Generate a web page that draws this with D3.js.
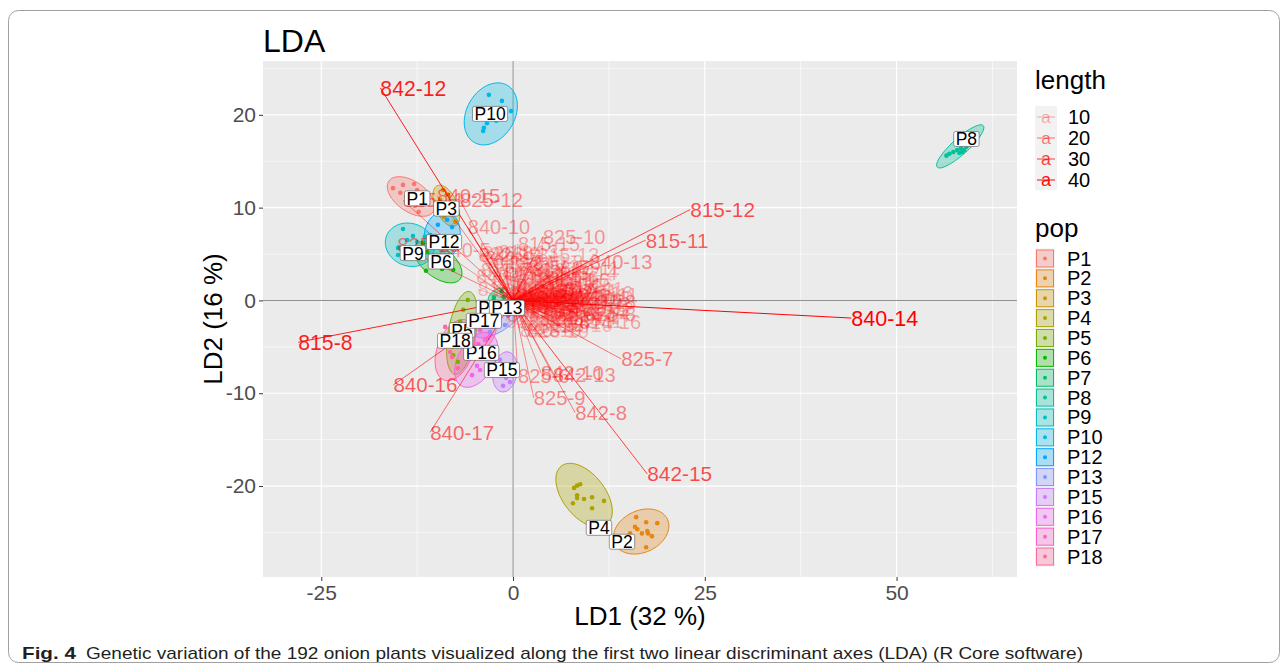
<!DOCTYPE html>
<html>
<head>
<meta charset="utf-8">
<script src="https://cdn.jsdelivr.net/npm/d3@7"></script>
<style>
  body { margin: 0; background: #fff; }
  svg { display: block; font-family: "Liberation Sans", Arial, sans-serif; }
</style>
</head>
<body>
<svg id="chart" width="1287" height="668"></svg>
<script>
// populations (ggplot hue palette, 16 levels)
const popNames = ["P1", "P2", "P3", "P4", "P5", "P6", "P7", "P8", "P9", "P10", "P12", "P13", "P15", "P16", "P17", "P18"];
const popColors = ["#F8766D", "#E68613", "#CD9600", "#ABA300", "#7CAE00", "#0CB702", "#00BE67", "#00C19A",
                   "#00BFC4", "#00B8E7", "#00A9FF", "#8494FF", "#C77CFF", "#ED68ED", "#FF61CC", "#FF68A1"];

// 95% ellipses: centre, half major axis (data units), minor/major ratio
const ellCx = [-13.3, 16.7, -8.7, 9.26, -6.65, -9.78, -1.95, 58.3, -13.45, -2.9, -9.25, -1.7, -1.05, -4.8, -3.8, -7.55];
const ellCy = [11.2, -24.9, 10.2, -21.0, -3.5, 4.15, 0.5, 16.6, 6.0, 20.1, 6.95, -1.9, -7.7, -6.4, -3.7, -5.35];
const ellUx = [2.88, 3.43, 1.16, 2.97, 0.95, 2.87, 1.2, 3.0, 3.06, 2.15, 0.52, 3.2, 0.4, 1.95, 1.17, 1.43];
const ellUy = [-1.67, 1.32, -2.17, -3.15, 4.46, -1.86, 0.6, 2.23, -0.92, 3.08, 2.65, 1.85, 2.15, 2.8, 1.68, 3.23];
const ellRatio = [0.56, 0.72, 0.5, 0.57, 0.33, 0.54, 0.6, 0.26, 0.85, 0.73, 0.72, 0.4, 0.6, 0.6, 0.55, 0.56];

// population label positions
const labelX = [-12.5, 14.2, -8.7, 11.2, -6.65, -9.4, -3.15, 59.1, -13.05, -3.0, -9.0, -0.8, -1.45, -4.15, -3.8, -7.55];
const labelY = [11.0, -26.0, 9.9, -24.5, -3.2, 4.2, -0.8, 17.4, 5.1, 20.1, 6.3, -0.8, -7.5, -5.65, -2.2, -4.35];

// individual plants (LD1, LD2) per population
const popPoints = [
  [[-15.65, 12.1], [-14.35, 12.45], [-12.9, 12.55], [-12.5, 11.9], [-13.8, 11.15], [-12.8, 10.2], [-12.3, 9.55], [-14.7, 11.6], [-13.2, 10.85], [-11.5, 10.7]],
  [[16.05, -23.35], [17.35, -23.9], [18.8, -24.0], [15.9, -24.4], [16.2, -24.65], [16.8, -25.1], [17.5, -24.85], [17.6, -25.1], [18.1, -25.4], [15.25, -25.1], [17.35, -26.6]],
  [[-8.6, 9.95], [-7.95, 9.4], [-9.0, 9.0], [-9.5, 10.85], [-7.55, 8.45], [-8.5, 11.4], [-9.1, 11.9]],
  [[7.95, -20.2], [8.35, -19.95], [8.75, -19.8], [8.35, -21.0], [8.35, -21.3], [7.8, -21.85], [9.25, -21.4], [10.3, -21.2], [11.85, -21.6], [10.3, -22.4]],
  [[-6.5, -1.0], [-7.95, -5.0], [-7.8, -5.9], [-6.9, -2.3], [-6.1, -4.0], [-7.2, -6.6], [-5.9, 0.05]],
  [[-11.35, 3.2], [-9.25, 3.4], [-7.8, 3.3], [-11.75, 6.2], [-11.2, 5.2], [-10.55, 4.15], [-8.75, 4.35]],
  [[-2.5, 0.3], [-1.5, 1.0], [-2.0, -0.2], [-1.2, 0.4]],
  [[56.9, 15.8], [56.5, 15.6], [57.9, 16.2], [58.2, 15.9], [58.55, 16.0], [58.8, 16.2], [57.4, 16.0], [58.4, 16.4], [59.1, 16.55]],
  [[-14.35, 7.7], [-13.05, 6.95], [-13.8, 6.5], [-15.0, 5.65], [-15.0, 4.9], [-12.5, 6.3], [-11.5, 6.85]],
  [[-3.15, 22.15], [-1.45, 21.5], [-0.25, 20.4], [-2.2, 19.35], [-3.4, 19.1], [-3.8, 18.6], [-3.9, 18.25]],
  [[-9.8, 8.15], [-8.6, 8.7], [-7.95, 7.9], [-10.8, 7.05], [-9.5, 6.0], [-7.55, 6.5]],
  [[-0.65, -1.65], [-3.0, -3.4], [-1.95, -2.3], [-0.15, -1.0], [-1.05, -2.65]],
  [[-0.65, -7.4], [-0.9, -8.35], [-0.4, -8.8], [-1.7, -6.4], [-1.3, -9.2]],
  [[-4.7, -7.05], [-4.3, -7.5], [-5.6, -4.8], [-3.65, -4.25], [-3.0, -3.7], [-5.35, -8.05]],
  [[-4.3, -3.2], [-3.25, -4.05], [-4.55, -4.7], [-2.75, -2.85]],
  [[-8.6, -3.95], [-8.2, -5.55], [-7.95, -6.1], [-7.2, -7.3], [-8.85, -2.85]]
];

// allele loadings: name, end point, length
const loadNames = ["842-12", "815-12", "815-11", "840-13", "825-10", "840-10", "840-15", "825-12", "840-14", "815-8",
  "840-16", "840-17", "825-7", "842-15", "842-8", "825-9", "825-11", "825-13", "840-5", "825-6", "842-10", "842-13",
  "840-18", "825-8", "814-16", "823-7", "815-15", "817-11",
  "811-7", "811-9", "811-12", "811-13", "811-14", "814-6", "814-8", "814-9", "814-10", "814-11", "814-12", "814-14",
  "815-6", "815-7", "815-9", "815-10", "815-13", "815-14", "817-6", "817-7", "817-9", "817-10", "817-12", "817-13",
  "825-5", "825-14", "825-15", "825-16", "826-4", "826-6", "826-7", "826-8", "826-9", "826-10", "826-12",
  "840-6", "840-7", "840-8", "840-9", "840-11", "840-12", "840-19", "842-5", "842-6", "842-7", "842-9", "842-11",
  "842-14", "842-16",
  "811-5", "811-6", "811-8", "811-10", "811-11", "811-15", "811-16", "814-5", "814-7", "814-13", "814-15",
  "815-5", "815-16", "815-17", "817-5", "817-8", "817-14", "817-15", "817-16", "823-5", "823-6", "823-8",
  "823-9", "823-10", "823-11", "823-12", "826-5", "826-11", "826-13", "826-14", "828-6", "828-7", "828-8",
  "828-9", "828-10", "828-11", "828-12", "833-6", "833-7", "833-8", "833-9", "833-10", "833-11", "833-12",
  "840-20", "842-17", "842-18",
  "819-5", "819-6", "819-7", "819-8", "819-9", "819-10", "819-11", "819-12", "821-6", "821-7", "821-8",
  "821-9", "821-10", "821-11", "821-12", "821-13", "836-7", "836-8", "836-9", "836-10", "836-11", "836-12",
  "836-13", "836-14", "838-6", "838-8"];
const loadX = [-17.3, 23.1, 17.3, 10.0, 3.9, -5.9, -9.9, -6.9, 44.1, -28.0,
  -15.6, -10.8, 14.1, 17.5, 8.1, 2.7, -14.35, -15.1, -9.6, 0.65, 3.65, 5.2,
  7.95, 9.4, 8.6, 1.8, 0.65, 6.1,
  -4.2, -3.6, -2.8, -1.9, 1.2, 2.5, -4.6, 3.8, 5.0, 6.6, 4.4, 7.2,
  -1.1, 0.4, 2.1, -3.3, 3.2, 5.6, 6.0, 4.1, 2.8, 6.9, 1.3, 3.5,
  -2.4, -0.8, 2.0, 7.6, -2.6, 4.6, 4.2, -4.0, -3.0, 1.9, 5.2,
  -4.8, -1.5, 2.6, -3.2, 8.4, 3.3, 0.9, -0.5, 5.8, 3.0, -4.5, 6.5,
  1.0, -1.0,
  0.3, 1.8, 2.4, 3.1, 0.8, 4.0, 5.3, 1.4, -0.6, 2.2, 3.6,
  0.5, 4.8, 2.9, 1.1, 3.9, 5.5, 2.3, 6.3, -1.8, 0.1, 1.6,
  3.4, 4.3, 5.9, -0.9, 2.7, 3.7, 1.5, 6.8, -2.1, 0.7, 2.0,
  4.6, 5.0, -1.4, 7.7, 1.9, 3.3, 0.2, 4.2, 2.6, -0.2, 6.1,
  5.4, 2.5, 7.3,
  0.2, 0.9, -0.4, 1.5, 0.6, -1.2, 1.9, 0.0, 1.2, -0.7, 0.4,
  1.7, -0.2, 0.8, 2.1, -0.9, 0.5, 1.3, -0.5, 0.1, 1.0, 1.8,
  -1.5, 0.7, 0.3, 1.4];
const loadY = [22.9, 9.8, 6.5, 4.2, 6.9, 7.9, 11.3, 10.8, -1.9, -4.5,
  -9.1, -14.2, -6.3, -18.7, -12.1, -10.5, 10.8, 6.0, 5.5, -8.1, -7.8, -8.0,
  -0.15, -1.45, -2.3, -3.2, 6.1, 3.5,
  3.3, 4.6, 2.0, 5.2, 3.4, 2.6, 1.2, 1.8, 0.4, 1.3, -0.9, -1.6,
  3.0, 1.6, -1.2, -0.6, 4.9, 3.0, 2.2, 1.0, 0.3, -0.5, -2.5, -2.0,
  1.0, -1.6, 3.6, 0.8, 4.2, 2.4, 1.1, 5.1, 5.0, -3.3, -1.2,
  2.6, 2.4, 4.1, 3.6, 0.6, 3.0, -3.2, 4.0, 0.5, -0.4, 4.9, -2.2,
  0.6, -0.3,
  0.8, 1.2, -0.6, 0.9, -1.1, -1.4, 1.7, 2.3, 1.5, 0.2, 2.0,
  -0.6, -0.3, 1.5, 0.4, -0.9, -1.9, 2.8, 0.1, 0.8, 2.6, -1.6,
  -2.7, 0.6, 1.0, -2.2, 1.9, -0.2, -0.3, -1.1, 2.9, 3.9, -2.4,
  1.3, -2.6, -1.0, -0.9, 0.7, 0.0, -1.9, -1.9, 3.3, 1.1, -0.7,
  0.2, -1.0, 0.3,
  0.3, -0.2, 0.6, 0.1, -0.7, 0.2, 0.5, -0.4, 0.9, -0.1, 1.1,
  -0.5, 0.4, -1.0, 0.0, 0.5, 0.1, 0.7, -0.6, 0.9, -0.3, 0.3,
  0.1, -0.8, 0.4, -0.1];
const loadLen = [36, 28, 24, 15, 13, 13, 17, 16, 42, 36,
  24, 22, 19, 28, 18, 16, 17, 17, 12, 14, 15, 15,
  11, 11, 10, 8, 11, 9,
  8, 7, 6, 8, 6, 6, 6, 6, 7, 8, 6, 9,
  5, 4, 5, 5, 8, 8, 8, 7, 4, 7, 5, 6,
  4, 4, 6, 9, 6, 7, 6, 8, 7, 6, 7,
  7, 5, 7, 6, 10, 6, 8, 6, 7, 5, 8, 8,
  3, 3,
  3, 4, 4, 5, 3, 5, 6, 4, 3, 3, 5,
  2, 5, 4, 2, 5, 6, 5, 6, 3, 4, 4,
  6, 5, 6, 4, 4, 4, 2, 7, 5, 5, 5,
  5, 6, 3, 8, 3, 4, 3, 5, 5, 2, 6,
  5, 3, 7,
  2, 2, 2, 3, 2, 3, 3, 2, 3, 2, 3,
  3, 2, 3, 3, 3, 2, 3, 2, 2, 2, 3,
  3, 2, 2, 3];
const lenBreaks = [10, 20, 30, 40];

// axis ticks
const xTicks = [-25, 0, 25, 50];
const xMinor = [-12.5, 12.5, 37.5, 62.5];
const yTicks = [-20, -10, 0, 10, 20];
const yMinor = [-25, -15, -5, 5, 15, 25];

const svg = d3.select("#chart");
const panel = { left: 263, right: 1017, top: 61, bottom: 577 };

const x = d3.scaleLinear().domain([-32.6, 65.7]).range([panel.left, panel.right]);
const y = d3.scaleLinear().domain([-29.8, 25.8]).range([panel.bottom, panel.top]);
const alpha = d3.scaleLinear().domain(d3.extent(loadLen)).range([0.16, 1]);
const fsize = d3.scaleLinear().domain(d3.extent(loadLen)).range([19.5, 21.5]);

// outer frame of the figure
svg.append("rect")
  .attr("x", 8.5).attr("y", 10.5).attr("width", 1271).attr("height", 652).attr("rx", 10)
  .attr("fill", "none").attr("stroke", "#a0a0a0").attr("stroke-width", 1);

svg.append("defs").append("clipPath").attr("id", "clip")
  .append("rect").attr("x", panel.left).attr("y", panel.top)
  .attr("width", panel.right - panel.left).attr("height", panel.bottom - panel.top);

svg.append("rect")
  .attr("x", panel.left).attr("y", panel.top)
  .attr("width", panel.right - panel.left).attr("height", panel.bottom - panel.top)
  .attr("fill", "#EBEBEB");

// grid
const grid = svg.append("g").attr("stroke", "#fff");
grid.selectAll(".xmin").data(xMinor).join("line")
  .attr("x1", d => x(d)).attr("x2", d => x(d)).attr("y1", panel.top).attr("y2", panel.bottom).attr("stroke-width", 0.6);
grid.selectAll(".ymin").data(yMinor).join("line")
  .attr("y1", d => y(d)).attr("y2", d => y(d)).attr("x1", panel.left).attr("x2", panel.right).attr("stroke-width", 0.6);
grid.selectAll(".xmaj").data(xTicks).join("line")
  .attr("x1", d => x(d)).attr("x2", d => x(d)).attr("y1", panel.top).attr("y2", panel.bottom).attr("stroke-width", 1.2);
grid.selectAll(".ymaj").data(yTicks).join("line")
  .attr("y1", d => y(d)).attr("y2", d => y(d)).attr("x1", panel.left).attr("x2", panel.right).attr("stroke-width", 1.2);

// zero lines
svg.append("line").attr("x1", x(0)).attr("x2", x(0)).attr("y1", panel.top).attr("y2", panel.bottom)
  .attr("stroke", "#6e6e6e").attr("stroke-width", 0.8);
svg.append("line").attr("y1", y(0)).attr("y2", y(0)).attr("x1", panel.left).attr("x2", panel.right)
  .attr("stroke", "#6e6e6e").attr("stroke-width", 0.8);

const plot = svg.append("g").attr("clip-path", "url(#clip)");

// ellipses
function ellipsePath(i) {
  const cx = x(ellCx[i]), cy = y(ellCy[i]);
  const ux = x(ellCx[i] + ellUx[i]) - cx, uy = y(ellCy[i] + ellUy[i]) - cy;
  const vx = -uy * ellRatio[i], vy = ux * ellRatio[i];
  const pts = d3.range(0, 72).map(k => {
    const t = k / 72 * 2 * Math.PI;
    return [cx + Math.cos(t) * ux + Math.sin(t) * vx, cy + Math.cos(t) * uy + Math.sin(t) * vy];
  });
  return d3.line()(pts) + "Z";
}

plot.selectAll(".ell").data(d3.range(popNames.length)).join("path")
  .attr("d", i => ellipsePath(i))
  .attr("fill", i => popColors[i]).attr("fill-opacity", 0.3)
  .attr("stroke", i => popColors[i]).attr("stroke-width", 1);

// points
const pts = popPoints.flatMap((arr, i) => arr.map(p => ({ x: p[0], y: p[1], i: i })));
plot.selectAll(".pt").data(pts).join("circle")
  .attr("cx", d => x(d.x)).attr("cy", d => y(d.y)).attr("r", 2.3)
  .attr("fill", d => popColors[d.i]);

// loadings
const loads = loadNames.map((n, i) => ({ name: n, x: loadX[i], y: loadY[i], len: loadLen[i] }));
plot.selectAll(".seg").data(loads).join("line")
  .attr("x1", x(0)).attr("y1", y(0))
  .attr("x2", d => x(d.x)).attr("y2", d => y(d.y))
  .attr("stroke", "#FF0000").attr("stroke-opacity", d => alpha(d.len)).attr("stroke-width", 1);
plot.selectAll(".ltxt").data(loads).join("text")
  .attr("x", d => x(d.x)).attr("y", d => y(d.y) + fsize(d.len) * 0.36)
  .attr("font-size", d => fsize(d.len))
  .attr("fill", "#FF0000").attr("fill-opacity", d => alpha(d.len))
  .text(d => d.name);

// population labels
const lab = plot.selectAll(".plab").data(d3.range(popNames.length)).join("g")
  .attr("transform", i => `translate(${x(labelX[i])},${y(labelY[i])})`);
lab.append("text").attr("text-anchor", "middle").attr("y", 6.4).attr("font-size", 17.5).attr("fill", "#000")
  .text(i => popNames[i]);
lab.each(function () {
  const g = d3.select(this);
  const w = g.select("text").node().getComputedTextLength() + 4;
  g.insert("rect", "text").attr("x", -w / 2).attr("y", -7.5).attr("width", w).attr("height", 15)
    .attr("rx", 2).attr("fill", "#fff").attr("stroke", "#555").attr("stroke-width", 0.6);
});

// axes
const xAxis = svg.append("g").attr("transform", `translate(0,${panel.bottom})`)
  .call(d3.axisBottom(x).tickValues(xTicks).tickSize(4).tickPadding(4).tickFormat(d3.format("d")));
const yAxis = svg.append("g").attr("transform", `translate(${panel.left},0)`)
  .call(d3.axisLeft(y).tickValues(yTicks).tickSize(4).tickPadding(3).tickFormat(d3.format("d")));
[xAxis, yAxis].forEach(a => {
  a.select(".domain").remove();
  a.selectAll(".tick line").attr("stroke", "#333").attr("stroke-width", 1);
  a.selectAll(".tick text").attr("fill", "#4D4D4D").attr("font-size", 21)
    .attr("font-family", "\"Liberation Sans\", Arial, sans-serif");
});
xAxis.selectAll(".tick text").text(d => d < 0 ? "-" + Math.abs(d) : d);
yAxis.selectAll(".tick text").text(d => d < 0 ? "-" + Math.abs(d) : d);

// titles
svg.append("text").attr("x", panel.left).attr("y", 52).attr("font-size", 32).attr("fill", "#000").text("LDA");
svg.append("text").attr("x", (panel.left + panel.right) / 2).attr("y", 625).attr("text-anchor", "middle")
  .attr("font-size", 26).text("LD1 (32 %)");
svg.append("text").attr("transform", `translate(222,${(panel.top + panel.bottom) / 2}) rotate(-90)`)
  .attr("text-anchor", "middle").attr("font-size", 26).text("LD2 (16 %)");

// legend: length
const lg1 = svg.append("g").attr("transform", "translate(1035,0)");
lg1.append("text").attr("x", 0).attr("y", 89).attr("font-size", 26).text("length");
lg1.append("rect").attr("x", 0).attr("y", 106).attr("width", 22).attr("height", 84).attr("fill", "#F2F2F2");
const k1 = lg1.selectAll(".k1").data(lenBreaks).join("g")
  .attr("transform", (d, i) => `translate(0,${117 + i * 21})`);
k1.append("text").attr("x", 11).attr("y", d => fsize(d) * 0.28).attr("text-anchor", "middle")
  .attr("font-size", d => fsize(d) * 0.85).attr("fill", "#FF0000").attr("fill-opacity", d => alpha(d)).text("a");
k1.append("line").attr("x1", 2).attr("x2", 20).attr("y1", 0).attr("y2", 0)
  .attr("stroke", "#FF0000").attr("stroke-opacity", d => alpha(d)).attr("stroke-width", 1);
k1.append("text").attr("x", 33).attr("y", 7).attr("font-size", 20).text(d => d);

// legend: pop
const lg2 = svg.append("g").attr("transform", "translate(1035,0)");
lg2.append("text").attr("x", 0).attr("y", 237).attr("font-size", 26).text("pop");
const k2 = lg2.selectAll(".k2").data(d3.range(popNames.length)).join("g")
  .attr("transform", i => `translate(0,${258.5 + i * 19.87})`);
k2.append("rect").attr("x", 0).attr("y", -10).attr("width", 20).attr("height", 20).attr("fill", "#F2F2F2");
k2.append("rect").attr("x", 1.5).attr("y", -8.5).attr("width", 17).attr("height", 17)
  .attr("fill", i => popColors[i]).attr("fill-opacity", 0.3)
  .attr("stroke", i => popColors[i]).attr("stroke-width", 1);
k2.append("circle").attr("cx", 10).attr("cy", 0).attr("r", 2).attr("fill", i => popColors[i]);
k2.append("text").attr("x", 32).attr("y", 7).attr("font-size", 20).text(i => popNames[i]);

// caption
const cap = svg.append("g").attr("font-family", "\"Liberation Sans Narrow\", \"Liberation Sans\", Arial, sans-serif")
  .attr("font-size", 17).attr("fill", "#231f20");
cap.append("text").attr("x", 22).attr("y", 659).attr("font-weight", "bold")
  .attr("textLength", 54).attr("lengthAdjust", "spacingAndGlyphs").text("Fig. 4");
cap.append("text").attr("x", 86).attr("y", 659)
  .attr("textLength", 997).attr("lengthAdjust", "spacingAndGlyphs")
  .text("Genetic variation of the 192 onion plants visualized along the first two linear discriminant axes (LDA) (R Core software)");
</script>
</body>
</html>
